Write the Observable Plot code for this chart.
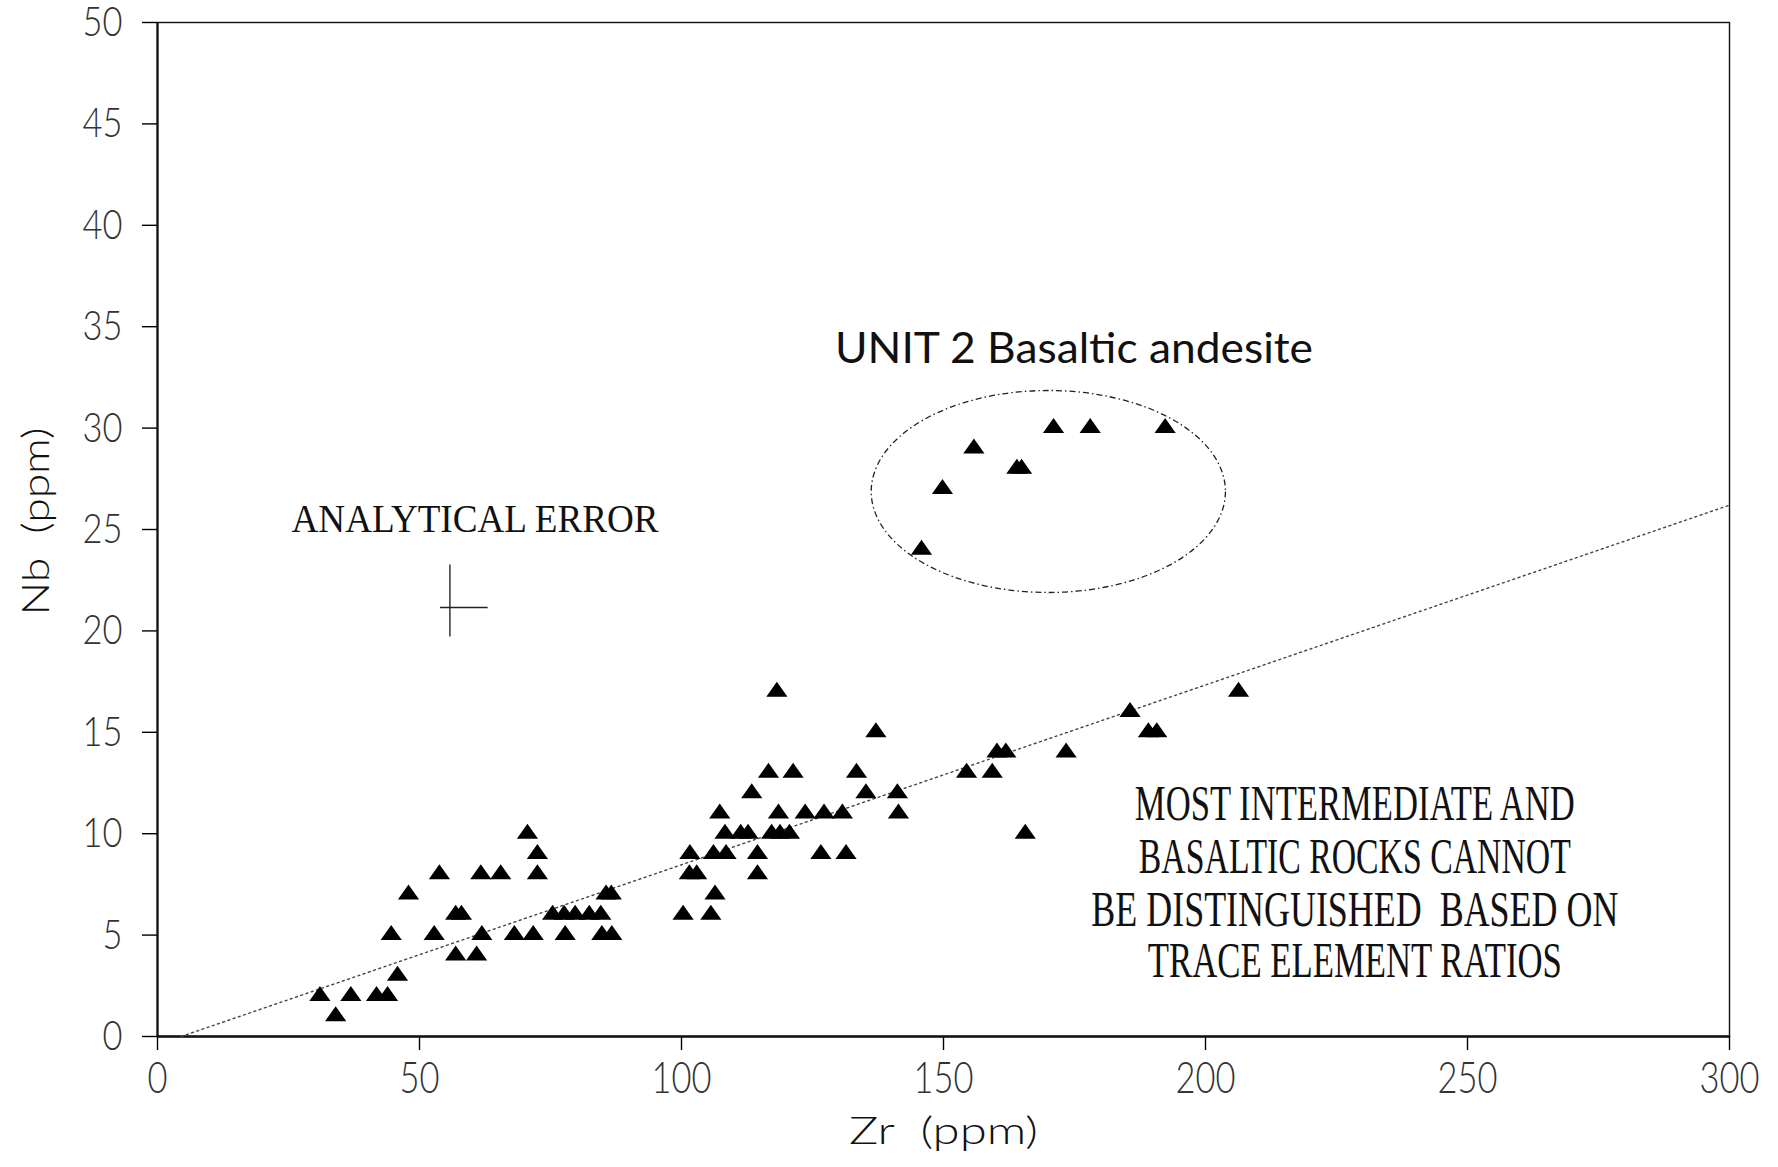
<!DOCTYPE html>
<html>
<head>
<meta charset="utf-8">
<script src="https://cdn.jsdelivr.net/npm/d3@7"></script>
<script src="https://cdn.jsdelivr.net/npm/@observablehq/plot@0.6"></script>
<style>
html, body { margin: 0; padding: 0; background: #fff; }
svg { display: block; }
</style>
</head>
<body>
<div id="chart"></div>
<script>
// ---- Data ----
const zr = [
  34.0,
  31.0, 36.9, 41.8, 43.9,
  45.8,
  56.9, 60.9,
  44.6, 52.8, 61.9, 68.1, 71.7, 77.8, 84.8, 86.7,
  56.9, 58.0, 75.4, 77.6, 79.7, 82.4, 84.6, 100.3, 105.6,
  47.9, 85.6, 86.6, 106.4,
  53.8, 61.7, 65.5, 72.5, 101.5, 102.9, 114.5,
  72.5, 101.6, 106.1, 108.5, 114.5, 126.6, 131.4,
  70.6, 108.3, 111.3, 112.7, 117.2, 118.8, 120.6, 165.6,
  107.3, 118.5, 123.6, 127.2, 130.7, 141.4,
  113.4, 135.2, 141.2,
  116.6, 121.3, 133.4, 154.4, 159.3,
  160.2, 161.9, 173.4,
  137.1, 189.1, 190.7,
  185.6,
  118.2, 206.3,
  145.8, 149.8, 164.0, 164.9, 155.8, 171.0, 178.0, 192.3
];
const nb = [
  1,
  2, 2, 2, 2,
  3,
  4, 4,
  5, 5, 5, 5, 5, 5, 5, 5,
  6, 6, 6, 6, 6, 6, 6, 6, 6,
  7, 7, 7, 7,
  8, 8, 8, 8, 8, 8, 8,
  9, 9, 9, 9, 9, 9, 9,
  10, 10, 10, 10, 10, 10, 10, 10,
  11, 11, 11, 11, 11, 11,
  12, 12, 12,
  13, 13, 13, 13, 13,
  14, 14, 14,
  15, 15, 15,
  16,
  17, 17,
  24, 27, 28, 28, 29, 30, 30, 30
];
const xTicks = [0, 50, 100, 150, 200, 250, 300];
const yTicks = [0, 5, 10, 15, 20, 25, 30, 35, 40, 45, 50];

// dotted reference line
const trendZr = [4.5, 300];
const trendNb = [0, 26.2];

// ellipse around UNIT 2 samples (centre and half-axes in data units)
const ellipseZr = [170.1];
const ellipseNb = [26.85];
const ellipseHalfZr = [33.8];
const ellipseHalfNb = [4.98];

// analytical error cross
const errZr = [55.8];
const errNb = [21.16];
const errZrRange = [54.0, 63.1];
const errNbRange = [19.7, 23.25];

// annotations
const noteText = ["UNIT 2 Basaltic andesite", "ANALYTICAL ERROR"];
const noteZr = [174.9, 60.6];
const noteNb = [33.2, 24.9];
const blockLines = ["MOST INTERMEDIATE AND", "BASALTIC ROCKS CANNOT", "BE DISTINGUISHED\u00a0 BASED ON", "TRACE ELEMENT RATIOS"];
const blockZr = [228.5, 228.5, 228.5, 228.5];
const blockNb = [10.68, 8.06, 5.45, 2.93];

// ---- Styles ----
const textWidths = {
  "UNIT 2 Basaltic andesite": 478,
  "ANALYTICAL ERROR": 367,
  "MOST INTERMEDIATE AND": 440,
  "BASALTIC ROCKS CANNOT": 432,
  "BE DISTINGUISHED\u00a0 BASED ON": 527,
  "TRACE ELEMENT RATIOS": 414,
  "Zr\u00a0 (ppm)": 189,
  "Nb\u00a0 (ppm)": 188
};
const digitWidth = 20;
const tickFont = "Lato, 'Liberation Sans Narrow', 'DejaVu Sans Condensed', sans-serif";
const serif = "'Liberation Serif', 'DejaVu Serif', serif";
const gothic = "Lato, 'Open Sans', sans-serif";

const flatTriangle = {
  draw(context) {
    const w = 10.6, h = 15;
    context.moveTo(0, -2 * h / 3);
    context.lineTo(w, h / 3);
    context.lineTo(-w, h / 3);
    context.closePath();
  }
};

const points = zr.map((z, i) => ({zr: z, nb: nb[i]}));
const trend = trendZr.map((z, i) => ({zr: z, nb: trendNb[i]}));
const notes = noteText.map((t, i) => ({t, zr: noteZr[i], nb: noteNb[i]}));
const block = blockLines.map((t, i) => ({t, zr: blockZr[i], nb: blockNb[i]}));

function ellipseMark(index, scales) {
  const {x, y} = scales;
  const cx = x(ellipseZr[0]), cy = y(ellipseNb[0]);
  const rx = Math.abs(x(ellipseZr[0] + ellipseHalfZr[0]) - cx);
  const ry = Math.abs(y(ellipseNb[0] + ellipseHalfNb[0]) - cy);
  return d3.create("svg:ellipse")
    .attr("cx", cx).attr("cy", cy).attr("rx", rx).attr("ry", ry)
    .attr("fill", "none").attr("stroke", "#222").attr("stroke-width", 1.3)
    .attr("stroke-dasharray", "6,3,1.5,3")
    .node();
}

const chart = Plot.plot({
  width: 1778,
  height: 1167,
  marginLeft: 157,
  marginRight: 49,
  marginTop: 22,
  marginBottom: 131,
  style: {background: "white", color: "black", fontFamily: tickFont},
  x: {domain: [0, 300]},
  y: {domain: [0, 50]},
  marks: [
    Plot.frame({stroke: "#111", strokeWidth: 1.4}),
    Plot.axisX(xTicks, {tickSize: 14, tickPadding: 12, fontSize: 43, fontFamily: tickFont, fontWeight: 300, fill: "#333", strokeWidth: 1.4, label: null}),
    Plot.axisY(yTicks, {tickSize: 15, tickPadding: 20, fontSize: 42, fontFamily: tickFont, fontWeight: 300, fill: "#333", strokeWidth: 1.4, label: null}),
    Plot.ruleX([0], {stroke: "#111", strokeWidth: 2.2}),
    Plot.ruleY([0], {stroke: "#111", strokeWidth: 2.6}),
    Plot.line(trend, {x: "zr", y: "nb", stroke: "#444", strokeWidth: 1.4, strokeDasharray: "2,3.5"}),
    ellipseMark,
    Plot.ruleX(errZr, {x: d => d, y1: errNbRange[0], y2: errNbRange[1], stroke: "#555", strokeWidth: 1.8}),
    Plot.ruleY(errNb, {y: d => d, x1: errZrRange[0], x2: errZrRange[1], stroke: "#222", strokeWidth: 1.5}),
    Plot.dot(points, {x: "zr", y: "nb", symbol: flatTriangle, fill: "black", stroke: "none"}),
    Plot.text([notes[0]], {x: "zr", y: "nb", text: "t", fontFamily: gothic, fontSize: 42, fill: "#111", lineAnchor: "bottom", textAnchor: "middle"}),
    Plot.text([notes[1]], {x: "zr", y: "nb", text: "t", fontFamily: serif, fontSize: 40, fill: "#111", lineAnchor: "bottom", textAnchor: "middle"}),
    Plot.text(block, {x: "zr", y: "nb", text: "t", fontFamily: serif, fontSize: 50, fill: "#111", lineAnchor: "bottom", textAnchor: "middle"}),
    Plot.text(["Zr\u00a0 (ppm)"], {frameAnchor: "bottom", dy: 107, lineAnchor: "bottom", textAnchor: "middle", fontFamily: gothic, fontWeight: 300, fontSize: 37, fill: "#111"}),
    Plot.text(["Nb\u00a0 (ppm)"], {frameAnchor: "left", dx: -120, dy: -8, rotate: -90, lineAnchor: "middle", textAnchor: "middle", fontFamily: gothic, fontWeight: 300, fontSize: 37, fill: "#111"})
  ]
});

chart.querySelectorAll("text").forEach(t => {
  const s = t.textContent;
  const w = textWidths[s] || (/^\d+$/.test(s) ? s.length * digitWidth : 0);
  if (w) {
    t.setAttribute("textLength", w);
    t.setAttribute("lengthAdjust", "spacingAndGlyphs");
  }
});

document.getElementById("chart").appendChild(chart);
</script>
</body>
</html>
